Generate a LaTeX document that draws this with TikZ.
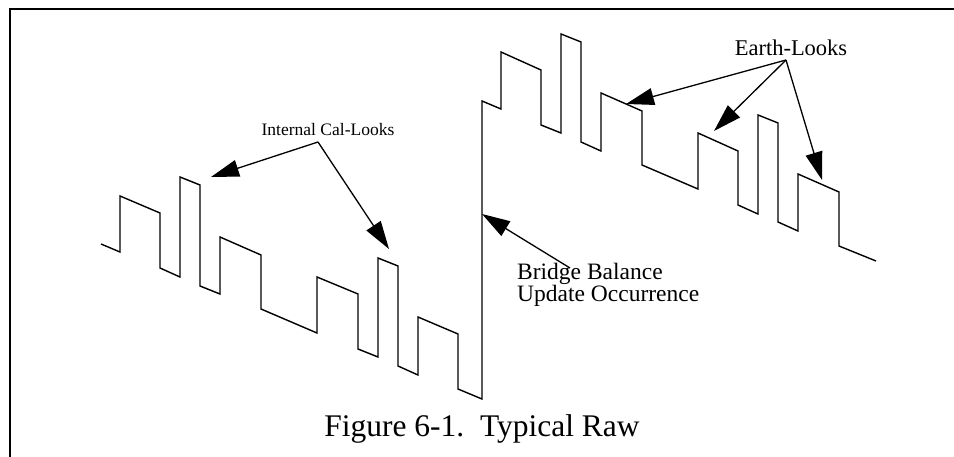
\documentclass[tikz,border=0pt]{standalone}
\usepackage{fontspec}
\setmainfont{Liberation Serif}
\usetikzlibrary{arrows.meta}

\tikzset{
  signal/.style={line width=1.4pt, line join=miter},
  pointer/.style={line width=1.3pt, -{Triangle[length=28pt,width=17pt]}},
  tag/.style={inner sep=0pt, font=\fontsize{22.5}{21}\selectfont},
}

\begin{document}
\begin{tikzpicture}[x=1pt,y=-1pt]
\useasboundingbox (0,0) rectangle (954,457);

% frame
\draw[line width=2.6pt] (10,457) -- (10,9) -- (955,9);

% raw signal
\draw[signal] (101,244) -- (120,252) -- (120,196) -- (160,213) -- (160,268)
  -- (180,277) -- (180,177) -- (200,185) -- (200,286) -- (220,294) -- (220,237)
  -- (261,255) -- (261,309) -- (317,333) -- (317,277) -- (358,294) -- (358,349)
  -- (378,357) -- (378,258) -- (398,266) -- (398,366) -- (418,375) -- (418,317)
  -- (458,334) -- (458,389) -- (482,399) -- (482,101) -- (501,109) -- (501,52)
  -- (541,70) -- (541,125) -- (561,133) -- (561,34) -- (581,42) -- (581,142)
  -- (601,151) -- (601,93) -- (642,111) -- (642,165) -- (698,189) -- (698,133)
  -- (738,151) -- (738,205) -- (758,214) -- (758,115) -- (778,123) -- (778,222)
  -- (798,231) -- (798,174) -- (839,192) -- (839,246) -- (876,261);

% points the labels refer to
\coordinate (cal1) at (211,177);
\coordinate (cal2) at (389,249);
\coordinate (update) at (482,214);
\coordinate (earth1) at (626,104);
\coordinate (earth2) at (714,131);
\coordinate (earth3) at (822,180);

% labels
\node[tag, anchor=base, font=\fontsize{17.5}{21}\selectfont] (intcal) at (328,136) {Internal Cal-Looks};
\node[tag, anchor=base] (earth) at (791,56) {Earth-Looks};
\node[tag, anchor=base west, align=left, font=\fontsize{23.5}{21}\selectfont] (bridge) at (517,302) {Bridge Balance\\Update Occurrence};
\node[tag, anchor=base, font=\fontsize{31.5}{36}\selectfont] (caption) at (482,436) {Figure 6-1.\ \ Typical Raw};

\coordinate (intcalfoot) at (318,142);
\coordinate (earthfoot) at (786,60);
\coordinate (bridgefoot) at (570,268);

% arrows
\draw[pointer] (intcalfoot) -- (cal1);
\draw[pointer] (intcalfoot) -- (cal2);
\draw[pointer] (bridgefoot) -- (update);
\draw[pointer] (earthfoot) -- (earth1);
\draw[pointer] (earthfoot) -- (earth2);
\draw[pointer] (earthfoot) -- (earth3);
\end{tikzpicture}
\end{document}
